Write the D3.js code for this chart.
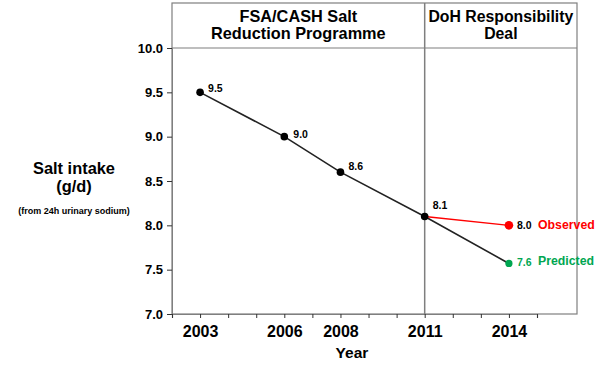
<!DOCTYPE html>
<html>
<head>
<meta charset="utf-8">
<script src="https://cdn.jsdelivr.net/npm/d3@7"></script>
<style>
  body { margin: 0; background: #fff; }
  text { font-family: "Liberation Sans", Arial, sans-serif; font-weight: bold; }
</style>
</head>
<body>
<div id="chart"></div>
<script>
// values
const years = [2003, 2006, 2008, 2011, 2014]
const predicted = [9.5, 9.0, 8.6, 8.1, 7.57]
const predictedLabels = ["9.5", "9.0", "8.6", "8.1", "7.6"]
const observedYears = [2011, 2014]
const observed = [8.1, 8.0]
const observedLabels = ["8.1", "8.0"]
const yTicks = [7.0, 7.5, 8.0, 8.5, 9.0, 9.5, 10.0]
const xTickYears = d3.range(2002, 2016)
const xLabelYears = [2003, 2006, 2008, 2011, 2014]
const periods = ["FSA/CASH Salt|Reduction Programme", "DoH Responsibility|Deal"]

const width = 604, height = 372
const plot = { left: 172, right: 537, top: 48, bottom: 314 }
const frame = { left: 172, right: 577, top: 3, bottom: 314 }
const gray = "#7f7f7f"
const red = "#ff0000", green = "#00a651"

const svg = d3.select("#chart").append("svg")
    .attr("width", width)
    .attr("height", height)

const x = d3.scaleLinear().domain([2002, 2015]).range([plot.left, plot.right])
const y = d3.scaleLinear().domain([7, 10]).range([plot.bottom, plot.top])

// frame + header
svg.append("rect")
    .attr("x", frame.left).attr("y", frame.top)
    .attr("width", frame.right - frame.left)
    .attr("height", frame.bottom - frame.top)
    .attr("fill", "none").attr("stroke", gray).attr("stroke-width", 1.2)
svg.append("line")
    .attr("x1", frame.left).attr("x2", frame.right)
    .attr("y1", plot.top).attr("y2", plot.top)
    .attr("stroke", gray).attr("stroke-width", 1.2)
svg.append("line")
    .attr("x1", x(2011)).attr("x2", x(2011))
    .attr("y1", frame.top).attr("y2", plot.bottom)
    .attr("stroke", gray).attr("stroke-width", 1.5)

const headerCenters = [(frame.left + x(2011)) / 2, (x(2011) + frame.right) / 2]
const headerSizes = [16.3, 15.8]
periods.forEach((p, i) => {
    const t = svg.append("text")
        .attr("x", headerCenters[i])
        .attr("text-anchor", "middle")
        .style("font-size", headerSizes[i] + "px")
    p.split("|").forEach((line, j) => {
        t.append("tspan").attr("x", headerCenters[i]).attr("y", 22 + j * 17).text(line)
    })
})

// axes
const yAxis = svg.append("g")
    .attr("transform", `translate(${plot.left},0)`)
    .call(d3.axisLeft(y).tickValues(yTicks).tickFormat(d3.format(".1f")).tickSize(5).tickPadding(4))
yAxis.select(".domain").attr("stroke", gray)
yAxis.selectAll(".tick line").attr("stroke", "#333")
yAxis.selectAll(".tick text").style("font-size", "13px").attr("fill", "#000")

const xAxis = svg.append("g")
    .attr("transform", `translate(0,${plot.bottom})`)
    .call(d3.axisBottom(x).tickValues(xTickYears)
        .tickFormat(d => xLabelYears.includes(d) ? d : "").tickSize(4).tickPadding(8))
xAxis.select(".domain").attr("stroke", gray).attr("stroke-width", 1.2)
xAxis.selectAll(".tick line").attr("stroke", "#333")
xAxis.selectAll(".tick text").style("font-size", "16px").attr("fill", "#000")

// axis titles
svg.append("text").attr("x", 352).attr("y", 358).attr("text-anchor", "middle")
    .style("font-size", "15.5px").text("Year")
const yTitle = svg.append("text").attr("text-anchor", "middle")
yTitle.append("tspan").attr("x", 74).attr("y", 174).style("font-size", "16.4px").text("Salt intake")
yTitle.append("tspan").attr("x", 74).attr("y", 192).style("font-size", "16.4px").text("(g/d)")
yTitle.append("tspan").attr("x", 74).attr("y", 214).style("font-size", "9px").text("(from 24h urinary sodium)")

// lines
const line = d3.line().x(d => x(d[0])).y(d => y(d[1]))
svg.append("path")
    .datum(years.map((yr, i) => [yr, predicted[i]]))
    .attr("d", line).attr("fill", "none").attr("stroke", "#222").attr("stroke-width", 1.6)
svg.append("path")
    .datum(observedYears.map((yr, i) => [yr, observed[i]]))
    .attr("d", line).attr("fill", "none").attr("stroke", red).attr("stroke-width", 1.4)

// points
const lastIdx = years.length - 1
svg.selectAll(".pred").data(years).join("circle")
    .attr("cx", d => x(d)).attr("cy", (d, i) => y(predicted[i]))
    .attr("r", (d, i) => i === lastIdx ? 3.6 : 3.8)
    .attr("fill", (d, i) => i === lastIdx ? green : "#000")
svg.append("circle")
    .attr("cx", x(observedYears[1])).attr("cy", y(observed[1]))
    .attr("r", 4.3).attr("fill", red)

// value labels
const labelOffsets = { 2003: [8, 0], 2006: [9, 1], 2008: [8, -2], 2011: [8, -7], 2014: [8, 3] }
svg.selectAll(".plab").data(years).join("text")
    .attr("x", d => x(d) + labelOffsets[d][0])
    .attr("y", (d, i) => y(predicted[i]) + labelOffsets[d][1])
    .style("font-size", "10.5px")
    .attr("fill", (d, i) => i === lastIdx ? green : "#000")
    .text((d, i) => predictedLabels[i])
svg.append("text")
    .attr("x", x(observedYears[1]) + 8).attr("y", y(observed[1]) + 4)
    .style("font-size", "10.5px").text(observedLabels[1])

svg.append("text").attr("x", 538).attr("y", y(observed[1]) + 4)
    .style("font-size", "12.3px").attr("fill", red).text("Observed")
svg.append("text").attr("x", 538).attr("y", y(predicted[lastIdx]) + 2)
    .style("font-size", "12.3px").attr("fill", green).text("Predicted")
</script>
</body>
</html>
